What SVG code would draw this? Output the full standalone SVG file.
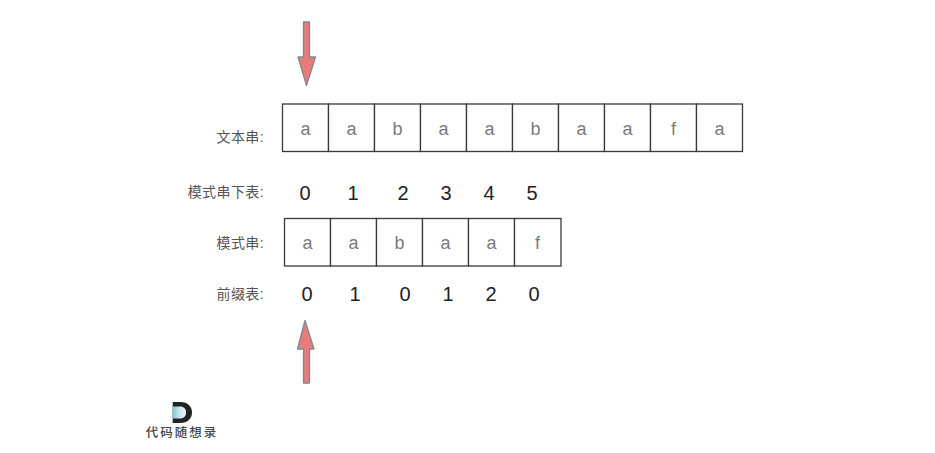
<svg xmlns="http://www.w3.org/2000/svg" width="935" height="453" viewBox="0 0 935 453">
<defs>
<linearGradient id="logo-grad" x1="0" y1="0" x2="1" y2="0"><stop offset="0" stop-color="#7ccbd2"/><stop offset="0.5" stop-color="#c5e6ea"/><stop offset="1" stop-color="#f4f4f4"/></linearGradient>
</defs>
<style>
.cell{fill:#fff;stroke:#3a3a3a;stroke-width:1.3}
.ch{font-family:"Liberation Sans",sans-serif;font-size:18px;fill:#7a7a7a;text-anchor:middle}
.num{font-family:"Liberation Sans",sans-serif;font-size:20px;fill:#222;text-anchor:middle}
.lab{font-family:"Liberation Sans","Noto Sans CJK SC",sans-serif;font-size:14px;fill:#555;text-anchor:end;letter-spacing:0.400px}
.arr{fill:#e87b7b;stroke:#80898d;stroke-width:1.3;stroke-linejoin:round}
.logo{font-family:"Noto Sans CJK SC",sans-serif;font-size:12.500px;font-weight:500;fill:#444;text-anchor:middle;letter-spacing:2px}
</style>
<rect width="935" height="453" fill="#fff"/>
<g id="text-string">
<rect class="cell" x="282.500" y="104" width="46" height="47.500"/><text class="ch" x="305.500" y="135">a</text>
<rect class="cell" x="328.500" y="104" width="46" height="47.500"/><text class="ch" x="351.500" y="135">a</text>
<rect class="cell" x="374.500" y="104" width="46" height="47.500"/><text class="ch" x="397.500" y="135">b</text>
<rect class="cell" x="420.500" y="104" width="46" height="47.500"/><text class="ch" x="443.500" y="135">a</text>
<rect class="cell" x="466.500" y="104" width="46" height="47.500"/><text class="ch" x="489.500" y="135">a</text>
<rect class="cell" x="512.500" y="104" width="46" height="47.500"/><text class="ch" x="535.500" y="135">b</text>
<rect class="cell" x="558.500" y="104" width="46" height="47.500"/><text class="ch" x="581.500" y="135">a</text>
<rect class="cell" x="604.500" y="104" width="46" height="47.500"/><text class="ch" x="627.500" y="135">a</text>
<rect class="cell" x="650.500" y="104" width="46" height="47.500"/><text class="ch" x="673.500" y="135">f</text>
<rect class="cell" x="696.500" y="104" width="46" height="47.500"/><text class="ch" x="719.500" y="135">a</text>
</g>
<g id="pattern-string">
<rect class="cell" x="284.500" y="218.500" width="46" height="47.500"/><text class="ch" x="307.500" y="249">a</text>
<rect class="cell" x="330.500" y="218.500" width="46" height="47.500"/><text class="ch" x="353.500" y="249">a</text>
<rect class="cell" x="376.500" y="218.500" width="46" height="47.500"/><text class="ch" x="399.500" y="249">b</text>
<rect class="cell" x="422.500" y="218.500" width="46" height="47.500"/><text class="ch" x="445.500" y="249">a</text>
<rect class="cell" x="468.500" y="218.500" width="46" height="47.500"/><text class="ch" x="491.500" y="249">a</text>
<rect class="cell" x="514.500" y="218.500" width="46.500" height="47.500"/><text class="ch" x="537.500" y="249">f</text>
</g>
<g id="labels">
<text class="lab" x="264" y="142">文本串:</text>
<text class="lab" x="264" y="197">模式串下表:</text>
<text class="lab" x="264" y="248">模式串:</text>
<text class="lab" x="264" y="299">前缀表:</text>
</g>
<g id="indices">
<text class="num" x="305" y="200">0</text><text class="num" x="353" y="200">1</text><text class="num" x="403" y="200">2</text><text class="num" x="446" y="200">3</text><text class="num" x="489" y="200">4</text><text class="num" x="532" y="200">5</text>
</g>
<g id="prefix-table">
<text class="num" x="307" y="301">0</text><text class="num" x="355" y="301">1</text><text class="num" x="405" y="301">0</text><text class="num" x="448" y="301">1</text><text class="num" x="491" y="301">2</text><text class="num" x="534" y="301">0</text>
</g>
<g id="connectors">
<path id="arrow-top" class="arr" d="M303.500 22H309.500V57H315.500L306.500 85.500L298 57H303.500Z"/>
<path id="arrow-bottom" class="arr" d="M303.500 383H309.500V349H314L305 320.500L297.500 349H303.500Z"/>
</g>
<g id="logo">
<path d="M172.700 402H180C188 402 192 407 192 412.500C192 418 188 423 180 423H172.700Z" fill="#222"/>
<path d="M172.700 406.500H180C184 406.500 186 409 186 412.500C186 416 184 418.500 180 418.500H172.700Z" fill="url(#logo-grad)"/>
<text class="logo" x="182" y="437">代码随想录</text>
</g>
</svg>
